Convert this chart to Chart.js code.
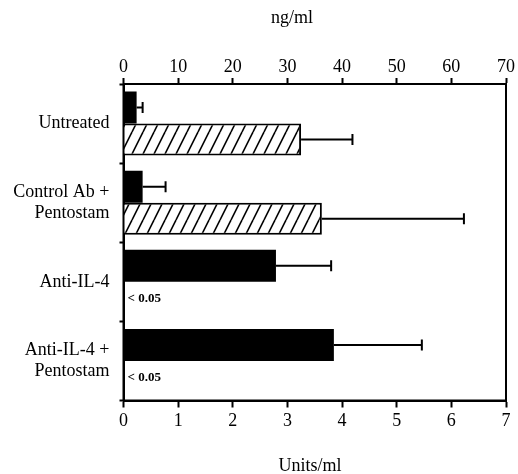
<!DOCTYPE html>
<html>
<head>
<meta charset="utf-8">
<script src="https://cdn.jsdelivr.net/npm/chart.js@4"></script>
<style>
  html, body { margin: 0; padding: 0; background: #fff; }
</style>
</head>
<body>
<canvas id="myBarChart" width="518" height="474"></canvas>
<script>
// categories (y axis)
var categories = ["Untreated", ["Control Ab +", "Pentostam"], "Anti-IL-4", ["Anti-IL-4 +", "Pentostam"]];
// black bars, read on the bottom axis (Units/ml)
var unitsValues = [0.24, 0.35, 2.79, 3.85];
var unitsErrors = [0.11, 0.42, 1.01, 1.61];
// hatched bars, read on the top axis (ng/ml)
var ngValues = [32.5, 36.3, null, null];
var ngErrors = [9.4, 26.0, null, null];
// text written where a hatched bar is missing
var ngNotes = [null, null, "< 0.05", "< 0.05"];
// axis ticks
var unitsTicks = [0, 1, 2, 3, 4, 5, 6, 7];
var ngTicks = [0, 10, 20, 30, 40, 50, 60, 70];

var serif = "'Liberation Serif', 'DejaVu Serif', serif";

// diagonal hatch fill
function makeHatch() {
  var w = 11, h = 22;
  var c = document.createElement("canvas");
  c.width = w; c.height = h;
  var g = c.getContext("2d");
  g.fillStyle = "#fff";
  g.fillRect(0, 0, w, h);
  g.strokeStyle = "#000";
  g.lineWidth = 1.6;
  [-w, 0, w].forEach(function (o) {
    g.beginPath();
    g.moveTo(o, h);
    g.lineTo(o + w, 0);
    g.stroke();
  });
  return g.createPattern(c, "repeat");
}

// draw error bars, the box and the extra texts
var extras = {
  id: "extras",
  afterDatasetsDraw: function (chart) {
    var ctx = chart.ctx;
    var area = chart.chartArea;
    ctx.save();
    ctx.strokeStyle = "#000";
    ctx.lineWidth = 2;

    var sets = [
      { meta: chart.getDatasetMeta(0), vals: unitsValues, errs: unitsErrors, scale: chart.scales.x },
      { meta: chart.getDatasetMeta(1), vals: ngValues, errs: ngErrors, scale: chart.scales.x2 }
    ];
    sets.forEach(function (s) {
      s.meta.data.forEach(function (bar, i) {
        if (s.vals[i] == null || s.errs[i] == null) return;
        var x0 = s.scale.getPixelForValue(s.vals[i]);
        var x1 = s.scale.getPixelForValue(s.vals[i] + s.errs[i]);
        var y = bar.y;
        ctx.beginPath();
        ctx.moveTo(x0, y);
        ctx.lineTo(x1, y);
        ctx.moveTo(x1, y - 5.5);
        ctx.lineTo(x1, y + 5.5);
        ctx.stroke();
      });
    });

    // frame round the plot
    ctx.strokeRect(area.left, area.top, area.right - area.left, area.bottom - area.top);

    // notes for missing hatched bars
    var blackMeta = chart.getDatasetMeta(0);
    ctx.fillStyle = "#000";
    ctx.font = "bold 13px " + serif;
    ctx.textAlign = "left";
    ctx.textBaseline = "middle";
    ngNotes.forEach(function (t, i) {
      if (!t) return;
      var b = blackMeta.data[i];
      ctx.fillText(t, area.left + 4, b.y + b.height + 1);
    });

    // axis titles
    ctx.font = "18px " + serif;
    ctx.textAlign = "center";
    ctx.fillText("ng/ml", 292, 18);
    ctx.fillText("Units/ml", 310, 466);
    ctx.restore();
  }
};

var ctx = document.getElementById("myBarChart").getContext("2d");

var myBarChart = new Chart(ctx, {
  type: "bar",
  data: {
    labels: categories,
    datasets: [
      {
        label: "Units/ml",
        data: unitsValues,
        xAxisID: "x",
        backgroundColor: "#000",
        borderWidth: 0
      },
      {
        label: "ng/ml",
        data: ngValues,
        xAxisID: "x2",
        backgroundColor: makeHatch(),
        borderColor: "#000",
        borderWidth: 2
      }
    ]
  },
  plugins: [extras],
  options: {
    indexAxis: "y",
    responsive: false,
    animation: false,
    categoryPercentage: 0.81,
    barPercentage: 1,
    layout: { padding: { top: 0, right: 12, bottom: 0, left: 0 } },
    plugins: {
      legend: { display: false },
      tooltip: { enabled: false }
    },
    scales: {
      y: {
        type: "category",
        offset: true,
        grid: {
          offset: true,
          drawOnChartArea: false,
          tickLength: 4,
          tickWidth: 2,
          tickColor: "#000"
        },
        border: { display: true, color: "#000", width: 2 },
        ticks: {
          color: "#000",
          padding: 10,
          font: { family: serif, size: 18, lineHeight: 1.2 }
        },
        afterFit: function (s) { s.width = 123.5; }
      },
      x: {
        position: "bottom",
        min: 0,
        max: 7,
        afterBuildTicks: function (s) { s.ticks = unitsTicks.map(function (v) { return { value: v }; }); },
        grid: {
          drawOnChartArea: false,
          tickLength: 7,
          tickWidth: 2,
          tickColor: "#000"
        },
        border: { display: true, color: "#000", width: 2 },
        ticks: {
          color: "#000",
          padding: 3,
          maxRotation: 0,
          font: { family: serif, size: 18 }
        },
        afterFit: function (s) { s.height = 73.5; }
      },
      x2: {
        position: "top",
        min: 0,
        max: 70,
        afterBuildTicks: function (s) { s.ticks = ngTicks.map(function (v) { return { value: v }; }); },
        grid: {
          drawOnChartArea: false,
          tickLength: 6,
          tickWidth: 2,
          tickColor: "#000"
        },
        border: { display: true, color: "#000", width: 2 },
        ticks: {
          color: "#000",
          padding: 0,
          maxRotation: 0,
          font: { family: serif, size: 18 }
        },
        afterFit: function (s) { s.height = 84; }
      }
    }
  }
});
</script>
</body>
</html>
